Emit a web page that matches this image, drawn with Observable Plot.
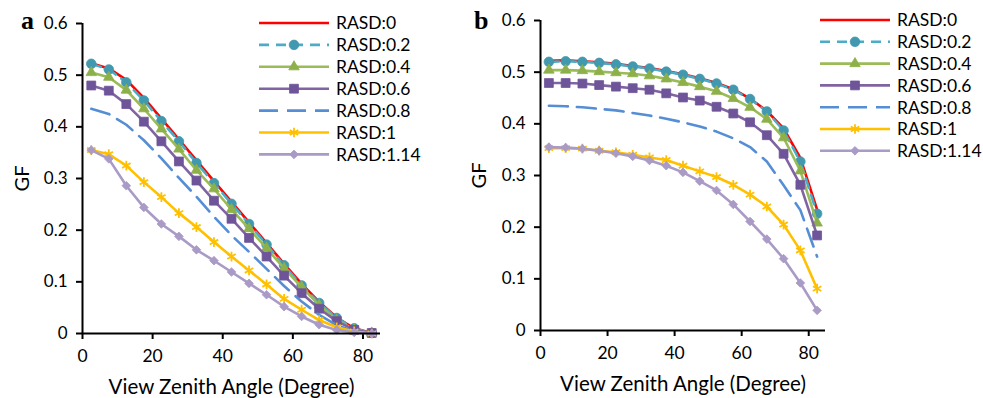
<!DOCTYPE html>
<html>
<head>
<meta charset="utf-8">
<script src="https://cdn.jsdelivr.net/npm/d3@7"></script>
<script src="https://cdn.jsdelivr.net/npm/@observablehq/plot@0.6"></script>
<style>
  html, body { margin: 0; padding: 0; background: #fff; }
  #root { position: relative; width: 983px; height: 398px; overflow: hidden; font-family: Lato, sans-serif; }
  .panel { position: absolute; top: 0; }
  .tag { position: absolute; font-family: "Liberation Serif", "DejaVu Serif", serif; font-weight: bold; font-size: 26px; line-height: 30px; color: #000; }
  .legend { position: absolute; }
</style>
</head>
<body>
<div id="root"></div>
<script>
// ---------- data ----------
const angles = [2.5, 7.5, 12.5, 17.5, 22.5, 27.5, 32.5, 37.5, 42.5, 47.5, 52.5, 57.5, 62.5, 67.5, 72.5, 77.5, 82.5];
const seriesNames = ["RASD:0", "RASD:0.2", "RASD:0.4", "RASD:0.6", "RASD:0.8", "RASD:1", "RASD:1.14"];
const xTicks = [0, 20, 40, 60, 80];
const yTicks = [0, 0.1, 0.2, 0.3, 0.4, 0.5, 0.6];

// panel a
const a_r0   = [0.523,0.513,0.491,0.456,0.416,0.376,0.335,0.295,0.255,0.215,0.175,0.135,0.096,0.061,0.031,0.010,0.001];
const a_r02  = [0.522,0.511,0.486,0.451,0.411,0.372,0.330,0.291,0.251,0.212,0.172,0.132,0.093,0.059,0.030,0.010,0.001];
const a_r04  = [0.505,0.496,0.471,0.435,0.396,0.357,0.316,0.280,0.240,0.203,0.165,0.126,0.090,0.055,0.026,0.008,0.001];
const a_r06  = [0.480,0.470,0.444,0.410,0.372,0.333,0.296,0.257,0.222,0.185,0.149,0.112,0.078,0.048,0.024,0.007,0.001];
const a_r08  = [0.435,0.425,0.404,0.374,0.339,0.301,0.265,0.226,0.190,0.158,0.125,0.092,0.062,0.036,0.016,0.004,0.000];
const a_r1   = [0.355,0.347,0.325,0.293,0.264,0.233,0.206,0.177,0.149,0.122,0.095,0.067,0.046,0.026,0.012,0.004,0.000];
const a_r114 = [0.355,0.338,0.286,0.244,0.212,0.188,0.162,0.141,0.119,0.097,0.075,0.052,0.033,0.017,0.007,0.002,0.000];

// panel b
const b_r0   = [0.522,0.523,0.521,0.519,0.516,0.512,0.508,0.502,0.496,0.488,0.479,0.467,0.449,0.425,0.391,0.334,0.234];
const b_r02  = [0.520,0.521,0.520,0.518,0.515,0.511,0.507,0.501,0.495,0.487,0.478,0.466,0.448,0.424,0.387,0.327,0.226];
const b_r04  = [0.504,0.504,0.503,0.501,0.499,0.497,0.493,0.487,0.480,0.472,0.463,0.449,0.432,0.409,0.373,0.309,0.208];
const b_r06  = [0.479,0.479,0.478,0.475,0.472,0.469,0.466,0.459,0.451,0.445,0.433,0.420,0.403,0.378,0.342,0.282,0.184];
const b_r08  = [0.435,0.434,0.432,0.429,0.426,0.421,0.416,0.410,0.403,0.395,0.385,0.372,0.355,0.327,0.281,0.233,0.143];
const b_r1   = [0.353,0.353,0.352,0.348,0.345,0.340,0.335,0.330,0.319,0.308,0.297,0.282,0.263,0.240,0.205,0.155,0.081];
const b_r114 = [0.355,0.354,0.352,0.348,0.343,0.337,0.329,0.319,0.306,0.289,0.271,0.244,0.211,0.177,0.139,0.092,0.039];

// ---------- styles ----------
const styles = [
  {line: "#FF0000", dash: null,   symbol: null,       mfill: null,      r: 0},
  {line: "#4BACC6", dash: "10,7", symbol: "circle",   mfill: "#4198AF", r: 4.8},
  {line: "#9BBB59", dash: null,   symbol: "triangle", mfill: "#8DB04A", r: 3.9},
  {line: "#8064A2", dash: null,   symbol: "square",   mfill: "#6E5499", r: 5.0},
  {line: "#558ED5", dash: "19,9", symbol: null,       mfill: null,      r: 0},
  {line: "#FFC000", dash: null,   symbol: "asterisk", mfill: "#FFC000", r: 4.6},
  {line: "#A99BC6", dash: null,   symbol: "diamond2", mfill: "#A99BC6", r: 3.9}
];

function tidy(arrays) {
  const rows = [];
  arrays.forEach((vals, si) => vals.forEach((v, i) => rows.push({series: seriesNames[si], si, x: angles[i], y: v})));
  return rows;
}

function seriesMarks(rows) {
  const marks = [];
  styles.forEach((s, si) => {
    const d = rows.filter(r => r.si === si);
    marks.push(Plot.line(d, {x: "x", y: "y", stroke: s.line, strokeWidth: 2.6, strokeDasharray: s.dash ?? undefined, strokeLinejoin: "round"}));
    if (s.symbol) {
      if (s.symbol === "asterisk") {
        marks.push(Plot.dot(d, {x: "x", y: "y", symbol: "asterisk", r: s.r, stroke: s.mfill, strokeWidth: 1.8, fill: "none"}));
      } else {
        marks.push(Plot.dot(d, {x: "x", y: "y", symbol: s.symbol, r: s.r, fill: s.mfill, stroke: s.mfill, strokeWidth: 0.8}));
      }
    }
  });
  return marks;
}

function panel({width, marginLeft, marginRight, marginTop, marginBottom, arrays, labelOffsetY, labelOffsetX}) {
  return Plot.plot({
    width, height: 398, marginLeft, marginRight, marginTop, marginBottom,
    x: {domain: [0, 85]},
    y: {domain: [0, 0.6]},
    style: {fontFamily: "Lato, sans-serif", fontSize: "17px", color: "#000", background: "transparent", overflow: "visible"},
    marks: [
      Plot.axisX({ticks: xTicks, tickSize: 6, tickPadding: 10, tickFormat: d => String(d), stroke: "#000", strokeWidth: 2,
        fontSize: 17.5, label: null}),
      Plot.axisX({ticks: [], tickSize: 0, label: "View Zenith Angle (Degree)", labelAnchor: "center", labelArrow: "none",
        labelOffset: labelOffsetX, fontSize: 20.5}),
      Plot.axisY({ticks: yTicks, tickSize: 6, tickPadding: 9, tickFormat: d => d === 0 ? "0" : d.toFixed(1), stroke: "#000", strokeWidth: 2,
        fontSize: 17, label: null}),
      Plot.axisY({ticks: [], tickSize: 0, label: "GF", labelAnchor: "center", labelArrow: "none", labelOffset: labelOffsetY, fontSize: 20}),
      ...seriesMarks(tidy(arrays)),
      Plot.ruleX([0], {stroke: "#000", strokeWidth: 2}),
      Plot.ruleY([0], {stroke: "#000", strokeWidth: 2})
    ]
  });
}

function legend(left, top, step) {
  const div = document.createElement("div");
  div.className = "legend";
  div.style.left = left + "px";
  div.style.top = top + "px";
  const svg = d3.create("svg").attr("width", 160).attr("height", step * 7 + 10).style("overflow", "visible");
  styles.forEach((s, i) => {
    const y = i * step;
    const g = svg.append("g").attr("transform", `translate(0,${y})`);
    g.append("line").attr("x1", 0).attr("x2", 70).attr("y1", 0).attr("y2", 0)
      .attr("stroke", s.line).attr("stroke-width", 2.6).attr("stroke-dasharray", s.dash);
    if (s.symbol) {
      const symMap = {circle: d3.symbolCircle, triangle: d3.symbolTriangle, square: d3.symbolSquare, asterisk: d3.symbolAsterisk, diamond2: d3.symbolDiamond2};
      const path = d3.symbol(symMap[s.symbol], Math.PI * s.r * s.r)();
      const p = g.append("path").attr("d", path).attr("transform", "translate(35,0)");
      if (s.symbol === "asterisk") p.attr("fill", "none").attr("stroke", s.mfill).attr("stroke-width", 1.8);
      else p.attr("fill", s.mfill).attr("stroke", s.mfill).attr("stroke-width", 0.8);
    }
    g.append("text").attr("x", 77).attr("y", 0).attr("dy", "0.36em")
      .attr("font-family", "Lato, sans-serif").attr("font-size", 17.5).attr("fill", "#000").text(seriesNames[i]);
  });
  div.appendChild(svg.node());
  return div;
}

const root = document.getElementById("root");

const pa = panel({width: 490, marginLeft: 82, marginRight: 110, marginTop: 23, marginBottom: 65,
  arrays: [a_r0, a_r02, a_r04, a_r06, a_r08, a_r1, a_r114], labelOffsetY: 68, labelOffsetX: 60});
pa.classList.add("panel"); pa.style.left = "0px";
root.appendChild(pa);

const pb = panel({width: 523, marginLeft: 80, marginRight: 158, marginTop: 20, marginBottom: 68,
  arrays: [b_r0, b_r02, b_r04, b_r06, b_r08, b_r1, b_r114], labelOffsetY: 69, labelOffsetX: 60});
pb.classList.add("panel"); pb.style.left = "460px";
root.appendChild(pb);

root.appendChild(legend(259, 22.7, 21.9));
root.appendChild(legend(820, 20, 21.8));

const ta = document.createElement("div"); ta.className = "tag"; ta.textContent = "a";
ta.style.left = "21px"; ta.style.top = "6px"; root.appendChild(ta);
const tb = document.createElement("div"); tb.className = "tag"; tb.textContent = "b";
tb.style.left = "474px"; tb.style.top = "6px"; root.appendChild(tb);
</script>
</body>
</html>
